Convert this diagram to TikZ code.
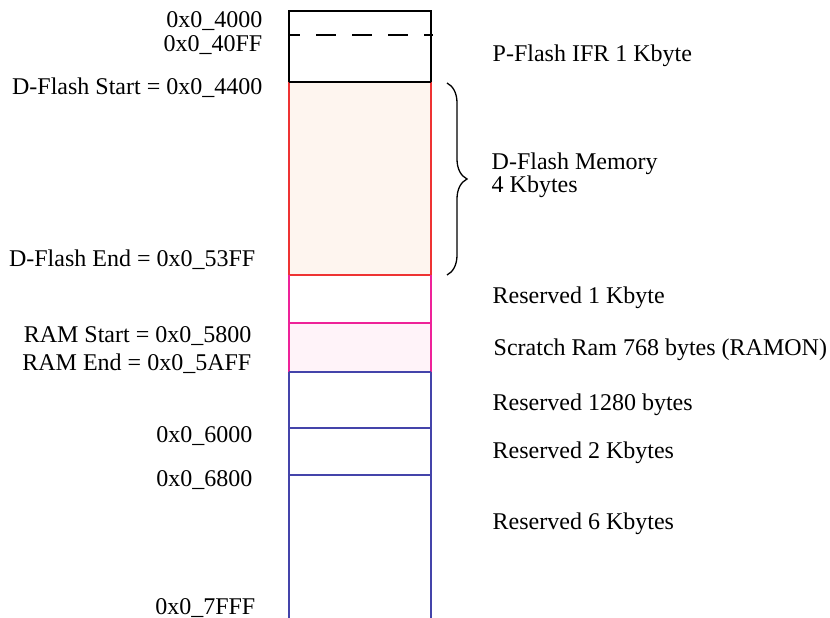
\documentclass[tikz,border=0pt]{standalone}
\usepackage{fontspec}
\setmainfont{Liberation Serif}
\usetikzlibrary{decorations.pathreplacing}
\definecolor{flashred}{HTML}{EE3333}
\definecolor{flashfill}{HTML}{FEF5EF}
\definecolor{rammag}{HTML}{EE2299}
\definecolor{ramfill}{HTML}{FFF3F9}
\definecolor{resblue}{HTML}{4444AA}
\tikzset{addr/.style={anchor=base east,inner sep=0pt},
  region/.style={anchor=base west,inner sep=0pt,align=left}}
\begin{document}
\begin{tikzpicture}[x=1pt,y=-1pt,line width=1.4pt,line cap=butt,font=\fontsize{24}{21.7}\selectfont]
\useasboundingbox (0,0) rectangle (830,618);
\coordinate (top) at (289,11);
\coordinate (dstart) at (289,82);
\coordinate (dend) at (289,275);
\coordinate (rstart) at (289,323);
\coordinate (rend) at (289,372);
\coordinate (r6000) at (289,428);
\coordinate (r6800) at (289,475);
\coordinate (bot) at (289,618);
\fill[flashfill] (dstart) rectangle ([xshift=142pt]dend);
\fill[ramfill] (rstart) rectangle ([xshift=142pt]rend);
\draw (dstart) -- (top) -- ++(142,0) -- ([xshift=142pt]dstart);
\draw[dash pattern=on 20pt off 16pt,dash phase=9pt] (289,35) -- (433,35);
\draw[flashred] (dstart) -- (dend) -- ++(142,0) -- ([xshift=142pt]dstart);
\draw (dstart) -- ++(142,0);
\draw[rammag] (dend) -- (rend) ([xshift=142pt]dend) -- ([xshift=142pt]rend);
\draw[rammag] (rstart) -- ++(142,0);
\draw[resblue] (rend) -- ++(142,0) (r6000) -- ++(142,0) (r6800) -- ++(142,0);
\draw[resblue] (rend) -- (bot) ([xshift=142pt]rend) -- ([xshift=142pt]bot);
\draw[line width=1.3pt,decorate,decoration={brace,amplitude=20pt}] (447,83) -- (447,275);

\node[addr] (a4000) at (263,28) {0x0\_4000};
\node[addr] (a40ff) at (263,52) {0x0\_40FF};
\node[addr] (a4400) at (263,94) {D-Flash Start = 0x0\_4400};
\node[addr] (a53ff) at (256,266) {D-Flash End = 0x0\_53FF};
\node[addr] (a5800) at (252,342) {RAM Start = 0x0\_5800};
\node[addr] (a5aff) at (252,370) {RAM End = 0x0\_5AFF};
\node[addr] (a6000) at (253,442) {0x0\_6000};
\node[addr] (a6800) at (253,486) {0x0\_6800};
\node[addr] (a7fff) at (256,614) {0x0\_7FFF};

\node[region] (pifr) at (492,62) {P-Flash IFR 1 Kbyte};
\node[region] (dmem) at (491,192) {D-Flash Memory\\4 Kbytes};
\node[region] (res1k) at (492,303) {Reserved 1 Kbyte};
\node[region] (sram) at (493,355) {Scratch Ram 768 bytes (RAMON)};
\node[region] (res1280) at (492,410) {Reserved 1280 bytes};
\node[region] (res2k) at (492,458) {Reserved 2 Kbytes};
\node[region] (res6k) at (492,529) {Reserved 6 Kbytes};
\end{tikzpicture}
\end{document}
